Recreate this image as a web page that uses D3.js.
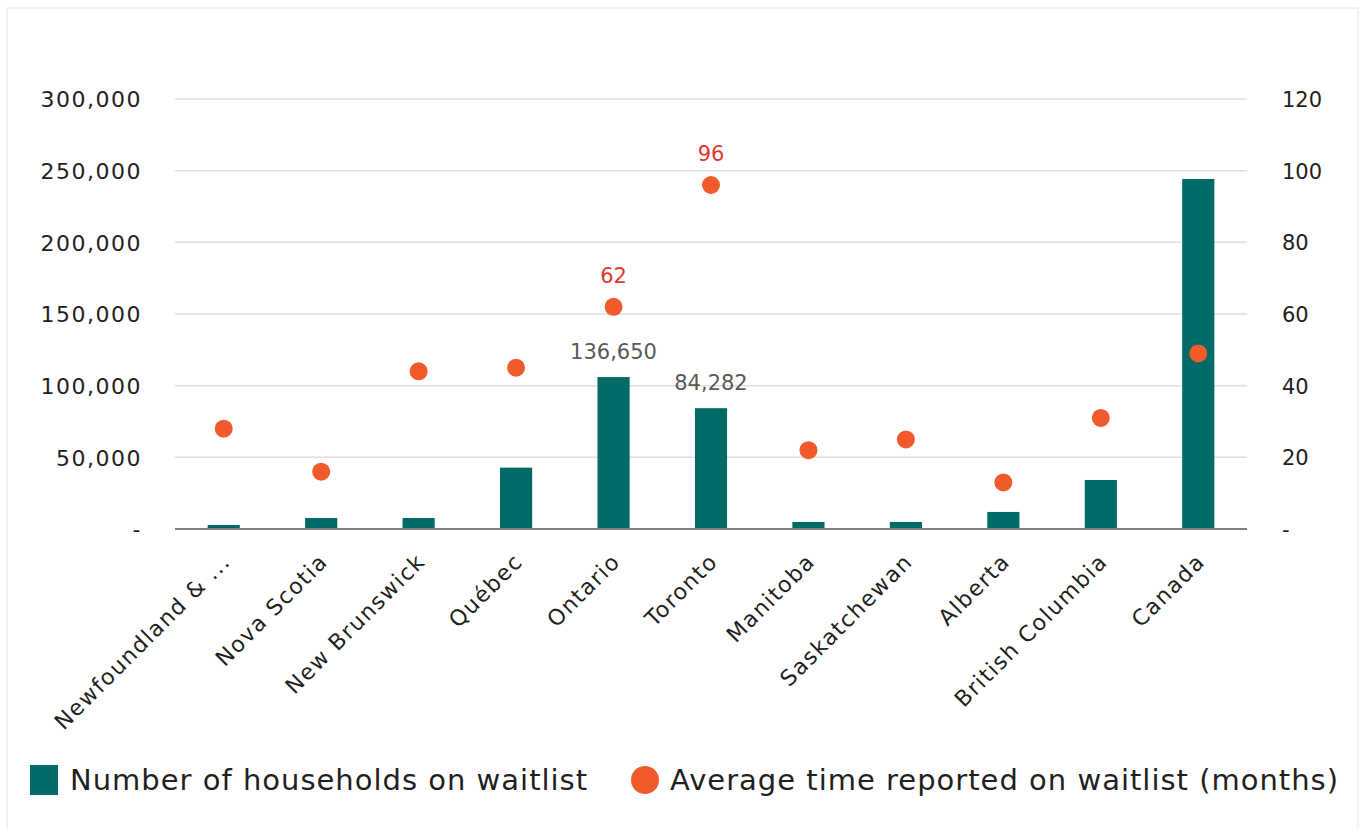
<!DOCTYPE html>
<html><head><meta charset="utf-8">
<script src="https://cdn.jsdelivr.net/npm/d3@7"></script>
<style>body{margin:0;background:#fff}svg{display:block}text{font-family:"DejaVu Sans",sans-serif}</style>
</head><body><svg id="c" width="1366" height="829"></svg>
<script>
const categories = ["Newfoundland & ...","Nova Scotia","New Brunswick","Québec","Ontario","Toronto","Manitoba","Saskatchewan","Alberta","British Columbia","Canada"];
const households = [2800, 7700, 7700, 42800, 106000, 84282, 4900, 4900, 11900, 34200, 244200];
const months = [28, 16, 44, 45, 62, 96, 22, 25, 13, 31, 49];
const barLabels = [null, null, null, null, "136,650", "84,282", null, null, null, null, null];
const dotLabels = [null, null, null, null, "62", "96", null, null, null, null, null];
const leftTicks = [0, 50000, 100000, 150000, 200000, 250000, 300000];
const rightTicks = [0, 20, 40, 60, 80, 100, 120];
const seriesNames = ["Number of households on waitlist", "Average time reported on waitlist (months)"];

const teal = "#006b66", orange = "#f15a2b";
const svg = d3.select("#c");
svg.append("rect").attr("x",7).attr("y",8).attr("width",1351).attr("height",840).attr("fill","none").attr("stroke","#e3e3e3").attr("stroke-width",1);

const m = {l:175, r:1247, t:99, b:529};
const x = d3.scaleBand().domain(categories).range([m.l, m.r]).paddingInner(0.67).paddingOuter(0.335);
const yL = d3.scaleLinear().domain([0,300000]).range([m.b, m.t]);
const yR = d3.scaleLinear().domain([0,120]).range([m.b, m.t]);
const fmtL = v => v === 0 ? "-" : d3.format(",")(v);
const fmtR = v => v === 0 ? "-" : String(v);

// grid
svg.append("g").selectAll("line").data(leftTicks.filter(d=>d>0)).join("line")
  .attr("x1",m.l).attr("x2",m.r).attr("y1",d=>yL(d)).attr("y2",d=>yL(d))
  .attr("stroke","#dedede").attr("stroke-width",1.5);

// left axis
const gl = svg.append("g").attr("transform",`translate(${m.l},0)`)
  .call(d3.axisLeft(yL).tickValues(leftTicks).tickFormat(fmtL).tickSize(0).tickPadding(33));
gl.select(".domain").remove();
gl.selectAll("text").attr("font-size",22).attr("letter-spacing","1.5px").attr("fill","#231f20").attr("dy","0.35em");

const gr = svg.append("g").attr("transform",`translate(${m.r},0)`)
  .call(d3.axisRight(yR).tickValues(rightTicks).tickFormat(fmtR).tickSize(0).tickPadding(35));
gr.select(".domain").remove();
gr.selectAll("text").attr("font-size",21).attr("fill","#231f20").attr("dy","0.35em");

// bars
svg.append("g").selectAll("rect").data(categories).join("rect")
  .attr("x",d=>x(d)).attr("width",x.bandwidth())
  .attr("y",(d,i)=>yL(households[i])).attr("height",(d,i)=>yL(0)-yL(households[i]))
  .attr("fill",teal);

// baseline
svg.append("line").attr("x1",m.l).attr("x2",m.r).attr("y1",yL(0)).attr("y2",yL(0)).attr("stroke","#808080").attr("stroke-width",2);

// bottom axis
const gb = svg.append("g").attr("transform",`translate(0,${m.b})`)
  .call(d3.axisBottom(x).tickSize(0).tickPadding(0));
gb.select(".domain").remove();
gb.selectAll("text").attr("font-size",22).attr("letter-spacing","1.5px").attr("fill","#231f20")
  .attr("text-anchor","end").attr("dy",null)
  .attr("transform","translate(8,34) rotate(-45)");

// dots
svg.append("g").selectAll("circle").data(categories).join("circle")
  .attr("cx",d=>x(d)+x.bandwidth()/2).attr("cy",(d,i)=>yR(months[i])).attr("r",9).attr("fill",orange);

// labels
svg.append("g").selectAll("text").data(categories.map((c,i)=>({c,i})).filter(d=>barLabels[d.i])).join("text")
  .attr("x",d=>x(d.c)+x.bandwidth()/2).attr("y",d=>yL(households[d.i])-18)
  .attr("text-anchor","middle").attr("font-size",21).attr("fill","#595959").text(d=>barLabels[d.i]);
svg.append("g").selectAll("text").data(categories.map((c,i)=>({c,i})).filter(d=>dotLabels[d.i])).join("text")
  .attr("x",d=>x(d.c)+x.bandwidth()/2).attr("y",d=>yR(months[d.i])-24)
  .attr("text-anchor","middle").attr("font-size",21).attr("fill","#e0392d").text(d=>dotLabels[d.i]);

// legend
const lg = svg.append("g");
lg.append("rect").attr("x",30).attr("y",765).attr("width",28).attr("height",30).attr("fill",teal);
lg.append("text").attr("x",70).attr("y",790).attr("font-size",29).attr("letter-spacing","1px").attr("fill","#231f20").text(seriesNames[0]);
lg.append("circle").attr("cx",645).attr("cy",780).attr("r",14).attr("fill",orange);
lg.append("text").attr("x",670).attr("y",790).attr("font-size",29).attr("letter-spacing","1px").attr("fill","#231f20").text(seriesNames[1]);
</script></body></html>
